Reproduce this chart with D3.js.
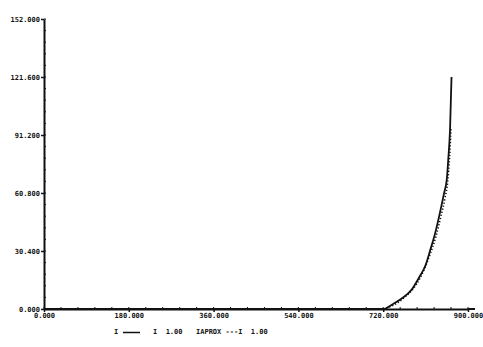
<!DOCTYPE html>
<html>
<head>
<meta charset="utf-8">
<script src="https://cdn.jsdelivr.net/npm/d3@7"></script>
<style>
  html, body { margin: 0; padding: 0; background: #fff; }
  svg { display: block; }
  text { font-family: "DejaVu Sans Mono", monospace; font-weight: bold; }
</style>
</head>
<body>
<div id="chart"></div>
<script>
// values
const xTicks = [0, 180, 360, 540, 720, 900];
const yTicks = [0, 30.4, 60.8, 91.2, 121.6, 152];

const curveX = [0, 720, 740, 760, 780, 795, 810, 820, 830, 840, 849, 855, 858, 862, 865];
const curveY = [0, 0, 2.5, 5.6, 10, 16, 23, 31, 39.5, 50, 60.5, 68, 78, 95, 121.6];

const aproxX = [720, 760, 800, 820, 832, 842, 851, 857, 861, 864];
const aproxY = [0, 5, 17, 29, 38, 48, 58, 67, 80, 95];

const legendItems = ["I", "I  1.00", "IAPROX ---I  1.00"];

const width = 483;
const height = 347;

const x = d3.scaleLinear().domain([0, 900]).range([44, 468]);
const y = d3.scaleLinear().domain([0, 152]).range([309, 19]);

const svg = d3.select('#chart').append('svg')
  .attr('width', width)
  .attr('height', height);

const fmt = d3.format('.3f');

// minor ticks
const xMinor = d3.range(0, 901, 36);
const yMinor = d3.range(0, 152.01, 152 / 25);

svg.append('g')
  .selectAll('line')
  .data(xMinor)
  .join('line')
  .attr('x1', d => x(d)).attr('x2', d => x(d))
  .attr('y1', y(0)).attr('y2', y(0) - 2)
  .attr('stroke', '#111').attr('stroke-width', 1);

svg.append('g')
  .selectAll('line')
  .data(yMinor)
  .join('line')
  .attr('x1', x(0)).attr('x2', x(0) + 2)
  .attr('y1', d => y(d)).attr('y2', d => y(d))
  .attr('stroke', '#111').attr('stroke-width', 1);

const xAxis = svg.append('g')
  .attr('transform', `translate(0 ${y(0)})`)
  .call(d3.axisBottom(x).tickValues(xTicks).tickFormat(fmt).tickSize(3).tickSizeOuter(0).tickPadding(1));

const yAxis = svg.append('g')
  .attr('transform', `translate(${x(0)} 0)`)
  .call(d3.axisLeft(y).tickValues(yTicks).tickFormat(fmt).tickSize(3).tickSizeOuter(0).tickPadding(1));

[xAxis, yAxis].forEach(a => {
  a.select('.domain').attr('stroke', '#111').attr('stroke-width', 2);
  a.selectAll('.tick line').attr('stroke', '#111').attr('stroke-width', 1.5);
  a.selectAll('.tick text').attr('fill', '#111').style('font-size', '7px');
});

// x axis runs a little past the last tick
svg.append('line')
  .attr('x1', x(900)).attr('x2', x(900) + 7)
  .attr('y1', y(0)).attr('y2', y(0))
  .attr('stroke', '#111').attr('stroke-width', 2);

const line = d3.line()
  .x(d => x(d[0]))
  .y(d => y(d[1]))
  .curve(d3.curveMonotoneX);

svg.append('path')
  .datum(aproxX.map((v, i) => [v, aproxY[i]]))
  .attr('fill', 'none')
  .attr('stroke', '#111')
  .attr('stroke-width', 1.6)
  .attr('stroke-dasharray', '1.2,2')
  .attr('d', line);

svg.append('path')
  .datum(curveX.map((v, i) => [v, curveY[i]]))
  .attr('fill', 'none')
  .attr('stroke', '#111')
  .attr('stroke-width', 1.8)
  .attr('stroke-linejoin', 'round')
  .attr('d', line);

// legend
const lg = svg.append('g').attr('fill', '#111').style('font-size', '7px');
lg.append('text').attr('x', 114).attr('y', 334).text(legendItems[0]);
lg.append('line')
  .attr('x1', 123).attr('x2', 140)
  .attr('y1', 332.5).attr('y2', 332.5)
  .attr('stroke', '#111').attr('stroke-width', 1.5);
lg.append('text').attr('x', 153).attr('y', 334).text(legendItems[1]).attr('xml:space', 'preserve');
lg.append('text').attr('x', 196).attr('y', 334).text(legendItems[2]).attr('xml:space', 'preserve');
</script>
</body>
</html>
